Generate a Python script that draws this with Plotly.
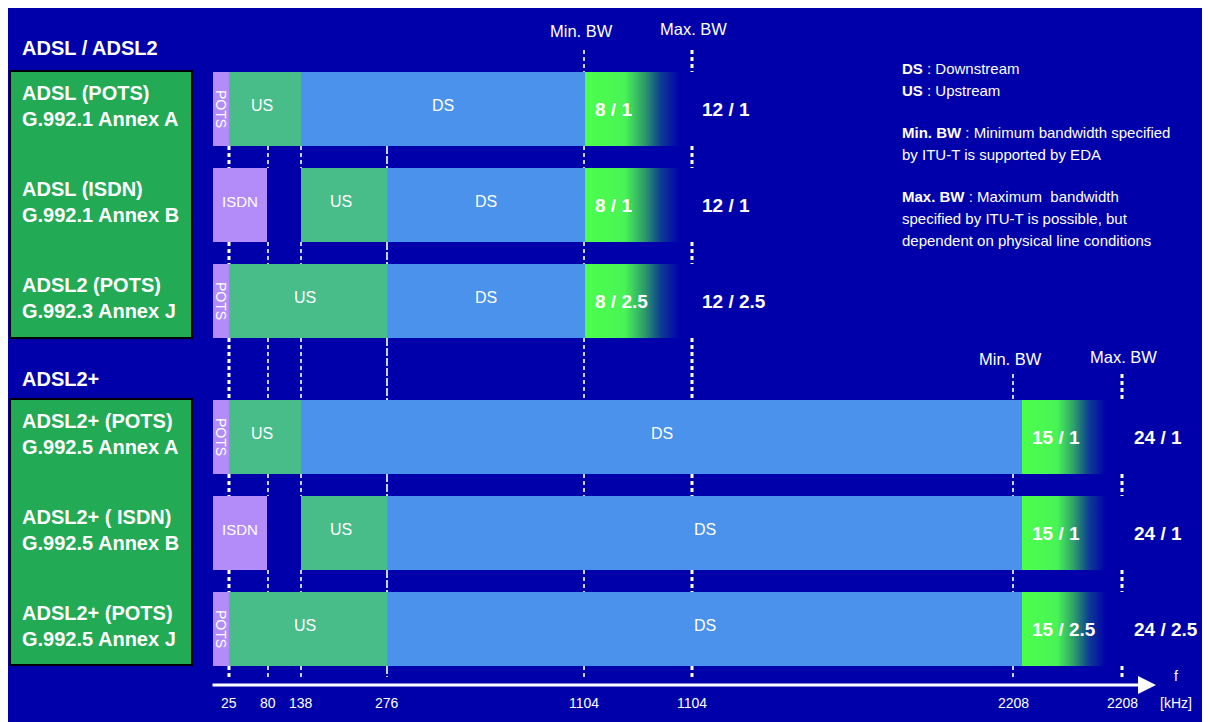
import plotly.graph_objects as go

# ---------------- data ----------------
group_titles = ["ADSL / ADSL2", "ADSL2+"]
standards = [
    "ADSL (POTS)<br>G.992.1 Annex A",
    "ADSL (ISDN)<br>G.992.1 Annex B",
    "ADSL2 (POTS)<br>G.992.3 Annex J",
    "ADSL2+ (POTS)<br>G.992.5 Annex A",
    "ADSL2+ ( ISDN)<br>G.992.5 Annex B",
    "ADSL2+ (POTS)<br>G.992.5 Annex J",
]
row_group = [0, 0, 0, 1, 1, 1]
splitter_type = ["POTS", "ISDN", "POTS", "POTS", "ISDN", "POTS"]
splitter_end = ["25", "80", "25", "25", "80", "25"]
us_start = ["25", "138", "25", "25", "138", "25"]
us_end = ["138", "276", "276", "138", "276", "276"]
ds_end = ["1104", "1104", "1104", "2208", "2208", "2208"]
min_bw_rate = ["8 / 1", "8 / 1", "8 / 2.5", "15 / 1", "15 / 1", "15 / 2.5"]
max_bw_rate = ["12 / 1", "12 / 1", "12 / 2.5", "24 / 1", "24 / 1", "24 / 2.5"]
tick_labels = ["25", "80", "138", "276", "1104", "1104", "2208", "2208"]
tick_kind = ["edge", "edge", "edge", "edge", "min", "max", "min", "max"]
tick_group = [0, 0, 0, 0, 0, 0, 1, 1]   # first group in which the tick line appears
legend_lines = [
    ("DS", " : Downstream"),
    ("US", " : Upstream"),
    None,
    ("Min. BW", " : Minimum bandwidth specified"),
    ("", "by ITU-T is supported by EDA"),
    None,
    ("Max. BW", " : Maximum  bandwidth"),
    ("", "specified by ITU-T is possible, but"),
    ("", "dependent on physical line conditions"),
]

# ---------------- schematic layout (not-to-scale frequency axis) ----------------
W, H = 1210, 722
OFF = 8   # page offset of the figure (body margin)
BG = "#0000AA"
C_DS, C_US, C_SPL = "#4A92EC", "#48BD8A", "#B48CFA"
C_BOX = "#22AA55"
FONT = "Liberation Sans, Arial, sans-serif"

AXIS_ORIGIN = 213
band_pos = {"0": 213, "25": 229, "80": 267, "138": 301, "276": 387,
            "1104": 585, "2208": 1022}
tick_pos = [229, 268, 301, 387, 584, 692, 1013, 1122]
grad_len = {"1104": 95, "2208": 84}
max_text_x = {"1104": 700, "2208": 1132}

row_top = [72, 168, 264, 400, 496, 592]
ROW_H = 74
box_span = [(71, 338), (399, 665)]
group_title_y = [48, 379]
group_top_line = [50, 374]
AXIS_Y = 685

fig = go.Figure()

# left standard boxes
for (y0, y1) in box_span:
    fig.add_shape(type="rect", x0=10, x1=192, y0=y0, y1=y1, fillcolor=C_BOX,
                  line=dict(color="black", width=2), layer="below")

# dashed vertical frequency lines (drawn only in gaps between rows)
gaps = []
for i in range(len(row_top) - 1):
    gaps.append((row_top[i] + ROW_H, row_top[i + 1]))
gaps.append((row_top[-1] + ROW_H, AXIS_Y - 8))
for k, (lab, kind, g) in enumerate(zip(tick_labels, tick_kind, tick_group)):
    x = tick_pos[k]
    xs, ys = [], []
    segs = []
    if kind in ("min", "max"):
        segs.append((group_top_line[g], row_top[3 * g]))
    for (a, b) in gaps:
        if g == 1 and b <= row_top[3]:
            continue
        segs.append((a, b))
    for (a, b) in segs:
        xs += [x, x, None]
        ys += [a, b, None]
    width = 3 if (kind == "max" or lab == "25") else 1.6
    dash = "4px,3px" if kind != "edge" or lab in ("25", "80", "138") else "8px,2px"
    fig.add_trace(go.Scatter(x=xs, y=ys, mode="lines",
                             line=dict(color="white", width=width, dash=dash),
                             hoverinfo="skip", showlegend=False))

# bands
for i in range(len(standards)):
    yc = row_top[i] + ROW_H / 2
    spans = [
        (band_pos["0"], band_pos[splitter_end[i]], C_SPL),
        (band_pos[us_start[i]], band_pos[us_end[i]], C_US),
        (band_pos[us_end[i]], band_pos[ds_end[i]], C_DS),
    ]
    for (a, b, c) in spans:
        fig.add_trace(go.Bar(y=[yc], x=[b - a], base=[a], orientation="h",
                             width=ROW_H, marker=dict(color=c, line_width=0),
                             hoverinfo="skip", showlegend=False))
    # min BW gradient block
    g0 = band_pos[ds_end[i]]
    g1 = g0 + grad_len[ds_end[i]]
    y0, y1 = row_top[i], row_top[i] + ROW_H
    fig.add_trace(go.Scatter(
        x=[g0, g1, g1, g0, g0], y=[y0, y0, y1, y1, y0], mode="lines",
        fill="toself", line=dict(width=0, color="rgba(0,0,0,0)"),
        fillgradient=dict(type="horizontal", colorscale=[
            [0, "#4CFF4C"], [0.42, "#48F455"], [0.62, "#2E9E6A"],
            [0.8, "#0C3C94"], [1, BG]]),
        hoverinfo="skip", showlegend=False))

    # texts in bands
    sp0, sp1 = band_pos["0"], band_pos[splitter_end[i]]
    if splitter_type[i] == "POTS":
        fig.add_annotation(x=(sp0 + sp1) / 2, y=yc, text="POTS", textangle=90,
                           showarrow=False, font=dict(color="white", size=14, family=FONT))
    else:
        fig.add_annotation(x=(sp0 + sp1) / 2, y=yc - 4, text="ISDN",
                           showarrow=False, font=dict(color="white", size=15, family=FONT))
    u0, u1 = band_pos[us_start[i]], band_pos[us_end[i]]
    fig.add_annotation(x=(u0 + u1) / 2 - 3, y=yc - 4, text="US", showarrow=False,
                       font=dict(color="white", size=16, family=FONT))
    d0, d1 = band_pos[us_end[i]], band_pos[ds_end[i]]
    fig.add_annotation(x=(d0 + d1) / 2, y=yc - 4, text="DS", showarrow=False,
                       font=dict(color="white", size=16, family=FONT))
    fig.add_annotation(x=g0 + 8, y=yc, text="<b>%s</b>" % min_bw_rate[i],
                       xanchor="left", showarrow=False,
                       font=dict(color="white", size=19, family=FONT))
    fig.add_annotation(x=max_text_x[ds_end[i]], y=yc, text="<b>%s</b>" % max_bw_rate[i],
                       xanchor="left", showarrow=False,
                       font=dict(color="white", size=19, family=FONT))

    # standard label
    fig.add_annotation(x=20, y=row_top[i] + 8, text="<b>%s</b>" % standards[i],
                       xanchor="left", yanchor="top", align="left", showarrow=False,
                       font=dict(color="white", size=20, family=FONT))

# group titles and Min/Max BW headers
for g in range(2):
    fig.add_annotation(x=20, y=group_title_y[g], text="<b>%s</b>" % group_titles[g],
                       xanchor="left", showarrow=False,
                       font=dict(color="white", size=20, family=FONT))
mins = [k for k in range(len(tick_kind)) if tick_kind[k] == "min"]
maxs = [k for k in range(len(tick_kind)) if tick_kind[k] == "max"]
hdr_y = [31, 359]
for g in range(2):
    fig.add_annotation(x=tick_pos[mins[g]] - 3, y=hdr_y[g], text="Min. BW", showarrow=False,
                       font=dict(color="white", size=16.5, family=FONT))
    fig.add_annotation(x=tick_pos[maxs[g]] + 1, y=hdr_y[g] - 2, text="Max. BW", showarrow=False,
                       font=dict(color="white", size=16.5, family=FONT))

# frequency axis with arrow
fig.add_annotation(x=1156, y=AXIS_Y, ax=AXIS_ORIGIN - 2, ay=AXIS_Y, xref="x", yref="y",
                   axref="x", ayref="y", showarrow=True, arrowhead=2, arrowsize=1.2,
                   arrowwidth=3, arrowcolor="white", text="")
for k, lab in enumerate(tick_labels):
    fig.add_annotation(x=tick_pos[k], y=703, text=lab, showarrow=False,
                       font=dict(color="white", size=14, family=FONT))
fig.add_annotation(x=1176, y=676, text="f", showarrow=False,
                   font=dict(color="white", size=14, family=FONT))
fig.add_annotation(x=1176, y=703, text="[kHz]", showarrow=False,
                   font=dict(color="white", size=14, family=FONT))

# explanatory legend text
ly = 68
for item in legend_lines:
    if item is None:
        ly += 20
        continue
    bold, rest = item
    txt = ("<b>%s</b>" % bold if bold else "") + rest
    fig.add_annotation(x=900, y=ly, text=txt, xanchor="left", showarrow=False,
                       font=dict(color="white", size=15, family=FONT))
    ly += 22

fig.update_layout(
    width=W, height=H, margin=dict(l=0, r=0, t=0, b=0),
    paper_bgcolor=BG, plot_bgcolor=BG,
    barmode="overlay", bargap=0,
    xaxis=dict(range=[OFF, W + OFF], visible=False, fixedrange=True),
    yaxis=dict(range=[H + OFF, OFF], visible=False, fixedrange=True),
    showlegend=False,
)

fig.write_html(
    "out.html",
    post_script="document.documentElement.style.overflow='hidden';"
                "document.body.style.overflow='hidden';",
)
